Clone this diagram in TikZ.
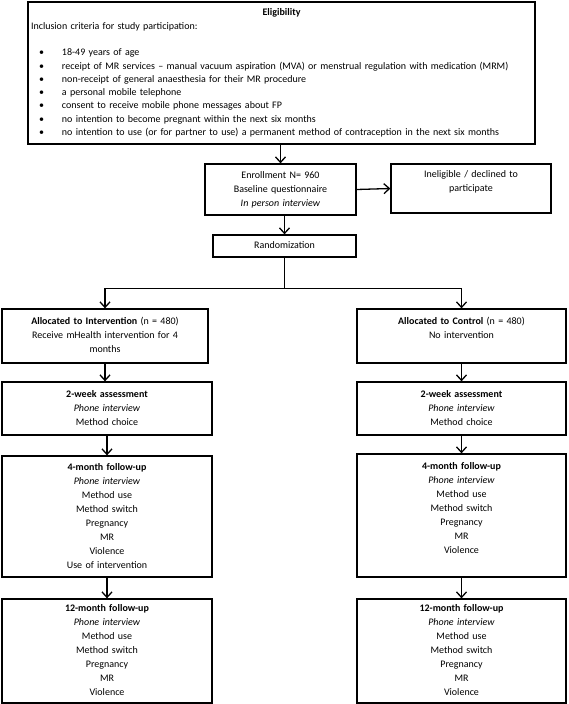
\documentclass[tikz,border=0pt]{standalone}
\usepackage{fontspec}
\setmainfont{Carlito}
\usetikzlibrary{arrows.meta}
\newcommand{\bul}[1]{\makebox[31pt][l]{\hspace{8pt}•}#1}
\begin{document}
\begin{tikzpicture}[x=1pt,y=-1pt,
  box/.style={draw, line width=1.3pt, inner sep=0pt, align=center,
    font=\fontsize{10}{14}\selectfont},
  arr/.style={line width=1.3pt, -{Straight Barb[length=5.5pt,width=10pt]}},
  ln/.style={line width=1.3pt}]
\useasboundingbox (0,0) rectangle (568,704);

\node[box, minimum width=507pt, minimum height=142pt, text width=501pt, align=left,
  font=\fontsize{10}{13.33}\selectfont] (elig) at (281.5,73)
  {{\centering\bfseries\strut Eligibility\par}%
   Inclusion criteria for study participation:\\
   \mbox{}\\
   \bul{18-49 years of age}\\
   \bul{receipt of MR services – manual vacuum aspiration (MVA) or menstrual regulation with medication (MRM)}\\
   \bul{non-receipt of general anaesthesia for their MR procedure}\\
   \bul{a personal mobile telephone}\\
   \bul{consent to receive mobile phone messages about FP}\\
   \bul{no intention to become pregnant within the next six months}\\
   \bul{no intention to use (or for partner to use) a permanent method of contraception in the next six months}\strut};

\node[box, minimum width=151pt, minimum height=51pt, text width=141pt] (enr) at (280.5,189.5)
  {\strut Enrollment N= 960\\ Baseline questionnaire\\ \textit{In person interview}\strut};
\node[box, minimum width=160pt, minimum height=49pt, text width=150pt] (inel) at (471,188.5)
  {\strut Ineligible / declined to\\ participate\\ \strut};
\node[box, minimum width=143pt, minimum height=22pt, text width=133pt] (rand) at (284.5,246)
  {\strut Randomization\strut};

\node[box, minimum width=206pt, minimum height=54pt, text width=196pt] (interv) at (105,336)
  {\strut\textbf{Allocated to Intervention} (n = 480)\\ Receive mHealth intervention for 4\\ months\strut};
\node[box, minimum width=209pt, minimum height=54pt, text width=199pt] (ctrl) at (461.5,336)
  {\strut\textbf{Allocated to Control} (n = 480)\\ No intervention\\ \strut};

\node[box, minimum width=210pt, minimum height=53pt, text width=200pt] (tw1) at (107,408.5)
  {\strut\textbf{2-week assessment}\\ \textit{Phone interview}\\ Method choice\strut};
\node[box, minimum width=209pt, minimum height=53pt, text width=199pt] (tw2) at (461.5,408.5)
  {\strut\textbf{2-week assessment}\\ \textit{Phone interview}\\ Method choice\strut};

\node[box, minimum width=210pt, minimum height=121pt, text width=200pt] (fm1) at (107,516.5)
  {\strut\textbf{4-month follow-up}\\ \textit{Phone interview}\\ Method use\\ Method switch\\ Pregnancy\\ MR\\ Violence\\ Use of intervention\strut};
\node[box, minimum width=209pt, minimum height=123pt, text width=199pt] (fm2) at (461.5,515.5)
  {\strut\textbf{4-month follow-up}\\ \textit{Phone interview}\\ Method use\\ Method switch\\ Pregnancy\\ MR\\ Violence\\ \strut};

\node[box, minimum width=210pt, minimum height=104pt, text width=200pt] (tm1) at (107,651)
  {\strut\textbf{12-month follow-up}\\ \textit{Phone interview}\\ Method use\\ Method switch\\ Pregnancy\\ MR\\ Violence\strut};
\node[box, minimum width=209pt, minimum height=104pt, text width=199pt] (tm2) at (461.5,651)
  {\strut\textbf{12-month follow-up}\\ \textit{Phone interview}\\ Method use\\ Method switch\\ Pregnancy\\ MR\\ Violence\strut};

\draw[arr] (elig.south -| enr.north) -- (enr.north);
\draw[arr] (enr.east) -- (inel.west);
\draw[arr] (enr.south -| rand.north) -- (rand.north);
\path (rand.south) ++(0,31) coordinate (split);
\draw[ln] (rand.south) -- (split);
\draw[arr] (split) -| (interv.north);
\draw[arr] (split) -| (ctrl.north);
\draw[arr] (interv.south) -- (interv.south |- tw1.north);
\draw[arr] (tw1.south) -- (fm1.north);
\draw[arr] (fm1.south) -- (tm1.north);
\draw[arr] (ctrl.south) -- (tw2.north);
\draw[arr] (tw2.south) -- (fm2.north);
\draw[arr] (fm2.south) -- (tm2.north);
\end{tikzpicture}
\end{document}
